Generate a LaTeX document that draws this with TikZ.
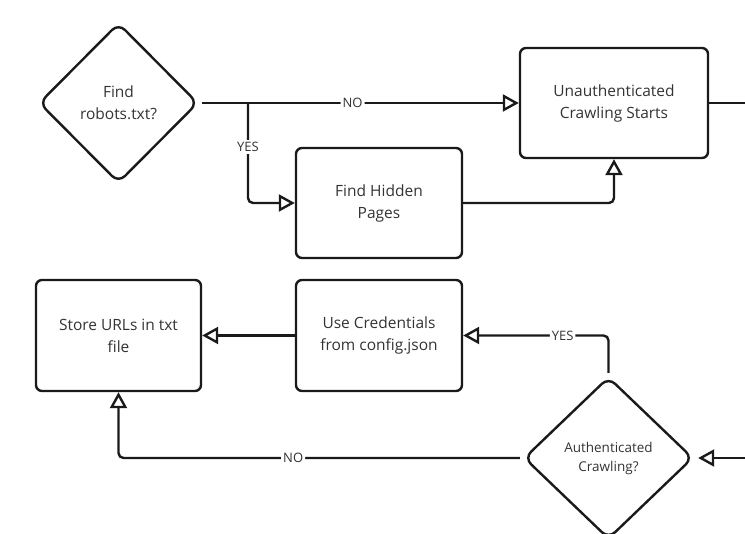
\documentclass[tikz,border=0pt]{standalone}
\usepackage{fontspec}
\setmainfont{Open Sans}
\usetikzlibrary{shapes.geometric,arrows.meta}
\definecolor{linec}{HTML}{1A1A1A}
\definecolor{textc}{HTML}{333333}
\begin{document}
\begin{tikzpicture}[x=1pt,y=-1pt,
  box/.style={draw=linec, line width=2.4pt, rounded corners=6pt, align=center, text=textc,
    font=\fontsize{15.5}{22}\selectfont, inner sep=0pt},
  dia/.style={diamond, draw=linec, line width=2.4pt, rounded corners=9pt, aspect=1,
    inner sep=0pt, align=center, text=textc},
  conn/.style={draw=linec, line width=2.4pt, rounded corners=5pt},
  arr/.style={conn, -{Triangle[open,length=16pt,width=17pt,line width=2.4pt]}},
  lbl/.style={fill=white, font=\fontsize{13}{15}\selectfont, text=textc, inner sep=2pt}]
\useasboundingbox (0,0) rectangle (745,534);
\node[dia, minimum width=159pt, minimum height=160pt, font=\fontsize{15.5}{22}\selectfont]
  (d1) at (118.5,103) {Find\\robots.txt?};
\node[box, minimum width=188pt, minimum height=110pt] (unauth) at (614,103)
  {Unauthenticated\\Crawling Starts};
\node[box, minimum width=166pt, minimum height=110pt] (hidden) at (379,203)
  {Find Hidden\\Pages};
\node[box, minimum width=165pt, minimum height=111pt] (store) at (118.5,335.5)
  {Store URLs in txt\\file};
\node[box, minimum width=166pt, minimum height=111pt] (creds) at (379,335.5)
  {Use Credentials\\from config.json};
\node[dia, minimum width=169pt, minimum height=162pt, font=\fontsize{13.5}{19}\selectfont]
  (ac) at (608.5,458) {Authenticated\\Crawling?};
\coordinate (split) at (248,103);
\coordinate (outR) at (745,103);
\coordinate (inR) at (745,458);
% top row
\draw[arr, shorten <=3pt] (d1.east) -- node[lbl,pos=0.48] (lno1) {NO} (unauth.west);
\draw[arr] (split) |- node[lbl,pos=0.22] (lyes1) {YES} (hidden.west);
\draw[arr] (hidden.east) -| (unauth.south);
\draw[conn] (unauth.east) -- (outR);
% bottom row
\draw[arr, shorten >=4pt] (inR) -- (ac.east);
\draw[arr, shorten <=3pt] (ac.north) |- node[lbl,pos=0.658] (lyes2) {YES} (creds.east);
\draw[arr] (creds.west) -- (store.east);
\draw[arr, shorten <=3pt] (ac.west) -| node[lbl,pos=0.284] (lno2) {NO} (store.south);
\end{tikzpicture}
\end{document}
